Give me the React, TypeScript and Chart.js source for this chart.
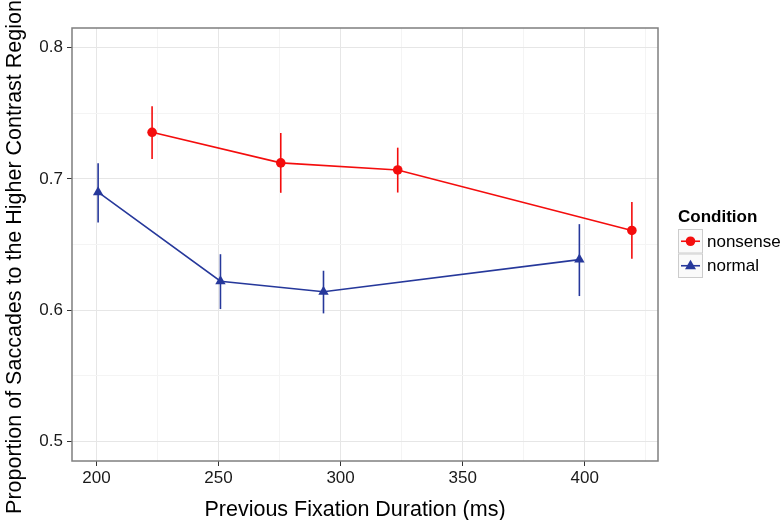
import React, { useEffect, useRef } from "react";
import { Chart, registerables } from "chart.js";

Chart.register(...registerables);

const FONT = "'Liberation Sans', Arial, Helvetica, sans-serif";

const seriesNames = ["nonsense", "normal"];
const seriesColors = ["#f40d0d", "#26389b"];
const seriesShapes = ["circle", "triangle"];

const xNonsense = [222.8, 275.5, 323.4, 419.3];
const yNonsense = [0.7355, 0.7122, 0.7068, 0.6607];
const loNonsense = [0.7152, 0.6894, 0.6896, 0.6392];
const hiNonsense = [0.7553, 0.735, 0.7238, 0.6823];

const xNormal = [200.7, 250.8, 293.0, 397.8];
const yNormal = [0.6899, 0.622, 0.614, 0.6385];
const loNormal = [0.6668, 0.6008, 0.5975, 0.6107];
const hiNormal = [0.7119, 0.6426, 0.63, 0.6655];

const xGridValues = [200, 225, 250, 275, 300, 325, 350, 375, 400, 425];
const xMajorTicks = [200, 250, 300, 350, 400];
const yGridValues = [0.5, 0.55, 0.6, 0.65, 0.7, 0.75, 0.8];
const yMajorTicks = [0.5, 0.6, 0.7, 0.8];

const xTitle = "Previous Fixation Duration (ms)";
const yTitle = "Proportion of Saccades to the Higher Contrast Region";
const legendTitle = "Condition";

const isMajor = (list: number[], v: number) => list.some((m) => Math.abs(m - v) < 1e-6);

export default function App() {
  const ref = useRef<HTMLCanvasElement | null>(null);

  useEffect(() => {
    if (!ref.current) return;
    const errors = [
      { lo: loNonsense, hi: hiNonsense, xs: xNonsense },
      { lo: loNormal, hi: hiNormal, xs: xNormal },
    ];

    const errorBarPlugin = {
      id: "errorBars",
      beforeDatasetsDraw(chart: any) {
        const { ctx, scales } = chart;
        ctx.save();
        errors.forEach((e, si) => {
          ctx.strokeStyle = seriesColors[si];
          ctx.lineWidth = 1.6;
          e.xs.forEach((xv, i) => {
            const px = scales.x.getPixelForValue(xv);
            ctx.beginPath();
            ctx.moveTo(px, scales.y.getPixelForValue(e.lo[i]));
            ctx.lineTo(px, scales.y.getPixelForValue(e.hi[i]));
            ctx.stroke();
          });
        });
        ctx.restore();
      },
      afterDraw(chart: any) {
        const { ctx, chartArea } = chart;
        ctx.save();
        ctx.strokeStyle = "#7f7f7f";
        ctx.lineWidth = 1.5;
        ctx.strokeRect(chartArea.left, chartArea.top, chartArea.right - chartArea.left, chartArea.bottom - chartArea.top);

        // axis titles
        ctx.fillStyle = "#000";
        ctx.font = `21.5px ${FONT}`;
        ctx.textAlign = "center";
        ctx.textBaseline = "alphabetic";
        ctx.fillText(xTitle, 355, 516);
        ctx.save();
        ctx.translate(20.5, 257);
        ctx.rotate(-Math.PI / 2);
        ctx.fillText(yTitle, 0, 0);
        ctx.restore();

        // legend
        const lx = 678;
        ctx.fillStyle = "#000";
        ctx.font = `bold 17px ${FONT}`;
        ctx.textBaseline = "middle";
        ctx.textAlign = "left";
        ctx.fillText(legendTitle, lx, 217);
        const rowH = 24.5;
        const top0 = 229;
        seriesNames.forEach((name, i) => {
          const y0 = top0 + i * rowH;
          ctx.fillStyle = "#fafafa";
          ctx.fillRect(lx, y0, 25, rowH);
          ctx.strokeStyle = "#cccccc";
          ctx.lineWidth = 1;
          ctx.strokeRect(lx + 0.5, y0 + 0.5, 24, rowH - 1);
          const cy = y0 + rowH / 2;
          ctx.strokeStyle = seriesColors[i];
          ctx.lineWidth = 1.6;
          ctx.beginPath();
          ctx.moveTo(lx + 3, cy);
          ctx.lineTo(lx + 22, cy);
          ctx.stroke();
          ctx.fillStyle = seriesColors[i];
          ctx.beginPath();
          if (seriesShapes[i] === "circle") {
            ctx.arc(lx + 12.5, cy, 4.8, 0, Math.PI * 2);
          } else {
            ctx.moveTo(lx + 12.5, cy - 6);
            ctx.lineTo(lx + 18, cy + 3.5);
            ctx.lineTo(lx + 7, cy + 3.5);
            ctx.closePath();
          }
          ctx.fill();
          ctx.fillStyle = "#000";
          ctx.font = `17px ${FONT}`;
          ctx.fillText(name, lx + 29, cy + 1);
        });
        ctx.restore();
      },
    };

    const chart = new Chart(ref.current, {
      type: "scatter",
      data: {
        datasets: [
          {
            label: seriesNames[0],
            data: xNonsense.map((x, i) => ({ x, y: yNonsense[i] })),
            showLine: true,
            borderColor: seriesColors[0],
            backgroundColor: seriesColors[0],
            borderWidth: 1.6,
            pointStyle: "circle",
            pointRadius: 4.8,
            pointBorderWidth: 0,
          },
          {
            label: seriesNames[1],
            data: xNormal.map((x, i) => ({ x, y: yNormal[i] })),
            showLine: true,
            borderColor: seriesColors[1],
            backgroundColor: seriesColors[1],
            borderWidth: 1.6,
            pointStyle: "triangle",
            pointRadius: 6,
            pointBorderWidth: 0,
          },
        ],
      },
      options: {
        animation: false,
        responsive: false,
        layout: { padding: { top: 28, right: 122, left: 0, bottom: 0 } },
        plugins: { legend: { display: false }, tooltip: { enabled: false } },
        scales: {
          x: {
            type: "linear",
            min: 190,
            max: 430,
            afterFit: (axis: any) => {
              axis.height = 59;
            },
            afterBuildTicks: (axis: any) => {
              axis.ticks = xGridValues.map((v) => ({ value: v }));
            },
            border: { display: false },
            grid: {
              color: (c: any) => (isMajor(xMajorTicks, c.tick.value) ? "#e6e6e6" : "#f4f4f4"),
              lineWidth: 1,
              tickLength: 5,
              tickColor: (c: any) => (isMajor(xMajorTicks, c.tick.value) ? "#333333" : "rgba(0,0,0,0)"),
            },
            ticks: {
              autoSkip: false,
              maxRotation: 0,
              padding: 2,
              color: "#1a1a1a",
              font: { family: FONT, size: 17 },
              callback: (v: any) => (isMajor(xMajorTicks, Number(v)) ? String(v) : ""),
            },
            title: { display: false },
          },
          y: {
            type: "linear",
            min: 0.485,
            max: 0.815,
            afterFit: (axis: any) => {
              axis.width = 72;
            },
            afterBuildTicks: (axis: any) => {
              axis.ticks = yGridValues.map((v) => ({ value: v }));
            },
            border: { display: false },
            grid: {
              color: (c: any) => (isMajor(yMajorTicks, c.tick.value) ? "#e6e6e6" : "#f4f4f4"),
              lineWidth: 1,
              tickLength: 5,
              tickColor: (c: any) => (isMajor(yMajorTicks, c.tick.value) ? "#333333" : "rgba(0,0,0,0)"),
            },
            ticks: {
              autoSkip: false,
              padding: 4,
              color: "#1a1a1a",
              font: { family: FONT, size: 17 },
              callback: (v: any) => (isMajor(yMajorTicks, Number(v)) ? Number(v).toFixed(1) : ""),
            },
            title: { display: false },
          },
        },
      },
      plugins: [errorBarPlugin],
    } as any);

    return () => chart.destroy();
  }, []);

  return (
    <canvas
      ref={ref}
      width={780}
      height={520}
      style={{ position: "absolute", left: 0, top: 0, width: 780, height: 520 }}
    />
  );
}
